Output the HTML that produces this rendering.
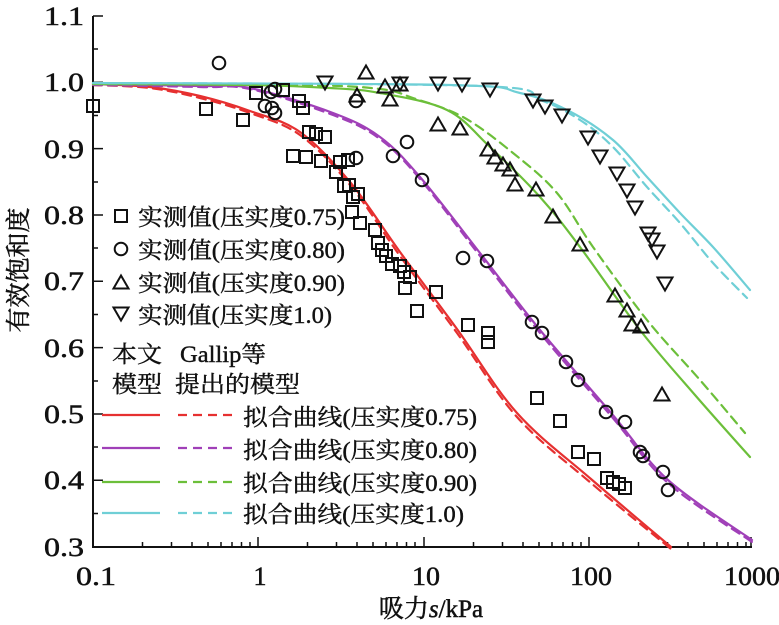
<!DOCTYPE html>
<html><head><meta charset="utf-8"><style>html,body{margin:0;padding:0;background:#fff}svg{display:block}</style></head><body>
<svg width="779" height="625" xmlns="http://www.w3.org/2000/svg" font-family="'Liberation Serif','Noto Serif CJK SC',serif">
<defs>
<g id="sq"><rect x="-6" y="-6" width="12" height="12" fill="none" stroke="#111" stroke-width="2"/></g>
<g id="ci"><circle r="6.3" fill="none" stroke="#111" stroke-width="2"/></g>
<g id="tu"><path d="M0,-7.5 L7.5,5.5 L-7.5,5.5 Z" fill="none" stroke="#111" stroke-width="2"/></g>
<g id="td"><path d="M0,7.5 L7.5,-5.5 L-7.5,-5.5 Z" fill="none" stroke="#111" stroke-width="2"/></g>
</defs>
<g stroke="#111" stroke-width="2" fill="none"><path d="M93,16 V547 H752"/></g>
<g stroke="#111" stroke-width="1.5">
<path d="M93,16h10M93,82.3h10M93,148.6h10M93,215h10M93,281.3h10M93,347.6h10M93,414h10M93,480.3h10M93,49h5M93,115.5h5M93,182h5M93,248h5M93,314.5h5M93,381h5M93,447h5M93,513.5h5"/>
<path d="M258,547v-10M424,547v-10M589,547v-10M751,547v-10"/>
<path d="M142.5,547v-5M171.5,547v-5M192,547v-5M208,547v-5M221,547v-5M232,547v-5M241.5,547v-5M250,547v-5
M307.5,547v-5M336.5,547v-5M357,547v-5M373,547v-5M386,547v-5M397,547v-5M406.5,547v-5M415,547v-5
M473.5,547v-5M502.5,547v-5M523,547v-5M539,547v-5M552,547v-5M563,547v-5M572.5,547v-5M581,547v-5
M638.5,547v-5M667.5,547v-5M688,547v-5M704,547v-5M717,547v-5M728,547v-5M737.5,547v-5M746,547v-5"/>
</g>
<g font-size="26" fill="#111" stroke="#111" stroke-width="0.5" text-anchor="end">
<text x="84" y="25" textLength="40" lengthAdjust="spacingAndGlyphs">1.1</text><text x="84" y="91" textLength="40" lengthAdjust="spacingAndGlyphs">1.0</text><text x="84" y="158" textLength="40" lengthAdjust="spacingAndGlyphs">0.9</text><text x="84" y="224" textLength="40" lengthAdjust="spacingAndGlyphs">0.8</text><text x="84" y="290" textLength="40" lengthAdjust="spacingAndGlyphs">0.7</text><text x="84" y="357" textLength="40" lengthAdjust="spacingAndGlyphs">0.6</text><text x="84" y="423" textLength="40" lengthAdjust="spacingAndGlyphs">0.5</text><text x="84" y="489" textLength="40" lengthAdjust="spacingAndGlyphs">0.4</text><text x="84" y="556" textLength="40" lengthAdjust="spacingAndGlyphs">0.3</text>
</g>
<g font-size="26" fill="#111" stroke="#111" stroke-width="0.5" text-anchor="middle">
<text x="96" y="585" textLength="40" lengthAdjust="spacingAndGlyphs">0.1</text><text x="260" y="585">1</text><text x="426" y="585" textLength="28" lengthAdjust="spacingAndGlyphs">10</text><text x="591" y="585" textLength="42" lengthAdjust="spacingAndGlyphs">100</text><text x="752" y="585" textLength="56" lengthAdjust="spacingAndGlyphs">1000</text>
</g>
<text x="431" y="617" font-size="25" text-anchor="middle" fill="#111" stroke="#111" stroke-width="0.5">吸力<tspan font-style="italic">s</tspan>/kPa</text>
<text transform="translate(27,270) rotate(-90)" font-size="25" text-anchor="middle" fill="#111" stroke="#111" stroke-width="0.5">有效饱和度</text>
<g fill="none" stroke-width="2.2" stroke-linecap="round">
<path class="sm" stroke="#e63030" stroke-dasharray="9,6" data-p="93,85 150,88 200,98 250,113 300,135 350,185 400,256 457,333 517,417 591,483 671,549"/>
<path class="sm" stroke="#e63030" data-p="93,84 150,87 200,96 250,111 300,132 350,182 400,252 457,329 517,413 591,479 671,547"/>
<path class="sm" stroke="#a040b8" stroke-dasharray="9,6" data-p="93,85 200,87 250,89 333,115 380,139 420,179 480,256 540,333 612,417 668,483 752,542"/>
<path class="sm" stroke="#a040b8" data-p="93,84 200,86 250,88 333,113 380,137 420,177 480,253 540,330 612,414 668,480 752,540"/>
<path class="sm" stroke="#6cbf3a" stroke-dasharray="9,6" data-p="93,84 300,85 380,89 413,98 463,117 513,153 557,193 593,247 647,320 700,380 745,433"/>
<path class="sm" stroke="#6cbf3a" data-p="93,84 250,85 330,88 380,93 447,110 490,147 540,197 580,247 640,330 695,395 750,457"/>
<path class="sm" stroke="#6fcfd6" stroke-dasharray="9,6" data-p="93,83 480,86 540,100 580,120 613,147 647,187 680,223 713,263 747,298"/>
<path class="sm" stroke="#6fcfd6" data-p="93,83 450,85 520,93 567,110 613,140 647,177 680,213 713,247 750,290"/>
</g>
<g>
<use href="#sq" x="93" y="106"/><use href="#sq" x="206" y="109"/><use href="#sq" x="243" y="120"/><use href="#sq" x="256" y="93"/><use href="#sq" x="283" y="90"/><use href="#sq" x="299" y="101"/><use href="#sq" x="303" y="108"/><use href="#sq" x="309" y="132"/><use href="#sq" x="316" y="134"/><use href="#sq" x="306" y="157"/><use href="#sq" x="293" y="156"/><use href="#sq" x="321" y="161"/><use href="#sq" x="325" y="137"/><use href="#sq" x="340" y="162"/><use href="#sq" x="348" y="160"/><use href="#sq" x="336" y="172"/><use href="#sq" x="344" y="186"/><use href="#sq" x="349" y="185"/><use href="#sq" x="353" y="197"/><use href="#sq" x="358" y="194"/><use href="#sq" x="352" y="212"/><use href="#sq" x="360" y="223"/><use href="#sq" x="375" y="230"/><use href="#sq" x="378" y="243"/><use href="#sq" x="382" y="250"/><use href="#sq" x="386" y="256"/><use href="#sq" x="392" y="264"/><use href="#sq" x="400" y="266"/><use href="#sq" x="404" y="272"/><use href="#sq" x="410" y="277"/><use href="#sq" x="405" y="288"/><use href="#sq" x="417" y="311"/><use href="#sq" x="436" y="292"/><use href="#sq" x="468" y="325"/><use href="#sq" x="488" y="333"/><use href="#sq" x="488" y="342"/><use href="#sq" x="537" y="398"/><use href="#sq" x="560" y="421"/><use href="#sq" x="578" y="452"/><use href="#sq" x="594" y="459"/><use href="#sq" x="607" y="478"/><use href="#sq" x="613" y="482"/><use href="#sq" x="619" y="484"/><use href="#sq" x="625" y="488"/>
<use href="#ci" x="219" y="63"/><use href="#ci" x="271" y="92"/><use href="#ci" x="275" y="89"/><use href="#ci" x="265" y="106"/><use href="#ci" x="272" y="108"/><use href="#ci" x="275" y="113"/><use href="#ci" x="356" y="101"/><use href="#ci" x="356" y="158"/><use href="#ci" x="393" y="156"/><use href="#ci" x="407" y="142"/><use href="#ci" x="422" y="180"/><use href="#ci" x="463" y="258"/><use href="#ci" x="487" y="261"/><use href="#ci" x="532" y="322"/><use href="#ci" x="542" y="333"/><use href="#ci" x="566" y="362"/><use href="#ci" x="578" y="380"/><use href="#ci" x="606" y="412"/><use href="#ci" x="625" y="422"/><use href="#ci" x="640" y="452"/><use href="#ci" x="643" y="456"/><use href="#ci" x="663" y="472"/><use href="#ci" x="668" y="490"/>
<use href="#tu" x="366" y="73"/><use href="#tu" x="357" y="96"/><use href="#tu" x="385" y="87"/><use href="#tu" x="390" y="100"/><use href="#tu" x="400" y="85"/><use href="#tu" x="438" y="125"/><use href="#tu" x="460" y="129"/><use href="#tu" x="488" y="150"/><use href="#tu" x="495" y="158"/><use href="#tu" x="503" y="165"/><use href="#tu" x="510" y="170"/><use href="#tu" x="515" y="185"/><use href="#tu" x="536" y="190"/><use href="#tu" x="553" y="217"/><use href="#tu" x="580" y="245"/><use href="#tu" x="615" y="296"/><use href="#tu" x="627" y="311"/><use href="#tu" x="632" y="325"/><use href="#tu" x="641" y="327"/><use href="#tu" x="662" y="395"/>
<use href="#td" x="325" y="82"/><use href="#td" x="400" y="83"/><use href="#td" x="438" y="83"/><use href="#td" x="462" y="84"/><use href="#td" x="490" y="89"/><use href="#td" x="533" y="100"/><use href="#td" x="545" y="106"/><use href="#td" x="562" y="115"/><use href="#td" x="588" y="137"/><use href="#td" x="600" y="156"/><use href="#td" x="617" y="173"/><use href="#td" x="627" y="190"/><use href="#td" x="635" y="207"/><use href="#td" x="648" y="233"/><use href="#td" x="652" y="239"/><use href="#td" x="657" y="251"/><use href="#td" x="665" y="283"/>
</g>
<g><use href="#sq" x="121" y="216"/><use href="#ci" x="121" y="249"/><use href="#tu" x="121" y="283"/><use href="#td" x="121" y="313"/></g>
<g font-size="23" fill="#111" stroke="#111" stroke-width="0.4">
<text x="138" y="225" textLength="207" lengthAdjust="spacingAndGlyphs">实测值(压实度0.75)</text>
<text x="138" y="258" textLength="207" lengthAdjust="spacingAndGlyphs">实测值(压实度0.80)</text>
<text x="138" y="291" textLength="207" lengthAdjust="spacingAndGlyphs">实测值(压实度0.90)</text>
<text x="138" y="323" textLength="194" lengthAdjust="spacingAndGlyphs">实测值(压实度1.0)</text>
<text x="112" y="362" textLength="50" lengthAdjust="spacingAndGlyphs">本文</text><text x="180" y="362" textLength="86" lengthAdjust="spacingAndGlyphs">Gallip等</text>
<text x="112" y="392" textLength="50" lengthAdjust="spacingAndGlyphs">模型</text><text x="175" y="392" textLength="125" lengthAdjust="spacingAndGlyphs">提出的模型</text>
<text x="243" y="425" textLength="234" lengthAdjust="spacingAndGlyphs">拟合曲线(压实度0.75)</text>
<text x="243" y="458" textLength="234" lengthAdjust="spacingAndGlyphs">拟合曲线(压实度0.80)</text>
<text x="243" y="491" textLength="234" lengthAdjust="spacingAndGlyphs">拟合曲线(压实度0.90)</text>
<text x="243" y="522" textLength="221" lengthAdjust="spacingAndGlyphs">拟合曲线(压实度1.0)</text>
</g>
<g stroke-width="2.2" fill="none">
<path stroke="#e63030" d="M102,415h58"/><path stroke="#e63030" stroke-dasharray="9,6" d="M178,415h58"/>
<path stroke="#a040b8" d="M102,448h58"/><path stroke="#a040b8" stroke-dasharray="9,6" d="M178,448h58"/>
<path stroke="#6cbf3a" d="M102,482h58"/><path stroke="#6cbf3a" stroke-dasharray="9,6" d="M178,482h58"/>
<path stroke="#6fcfd6" d="M102,513h58"/><path stroke="#6fcfd6" stroke-dasharray="9,6" d="M178,513h58"/>
</g>
</svg>
<script>
document.querySelectorAll('path.sm').forEach(function(el){
  var p=el.getAttribute('data-p').trim().split(/\s+/).map(function(s){return s.split(',').map(Number);});
  var d='M'+p[0][0]+','+p[0][1];
  for(var i=0;i<p.length-1;i++){
    var p0=p[i-1]||p[i],p1=p[i],p2=p[i+1],p3=p[i+2]||p2;
    var c1x=p1[0]+(p2[0]-p0[0])/6,c1y=p1[1]+(p2[1]-p0[1])/6;
    var c2x=p2[0]-(p3[0]-p1[0])/6,c2y=p2[1]-(p3[1]-p1[1])/6;
    d+=' C'+c1x.toFixed(1)+','+c1y.toFixed(1)+' '+c2x.toFixed(1)+','+c2y.toFixed(1)+' '+p2[0]+','+p2[1];
  }
  el.setAttribute('d',d);
});
</script>
</body></html>
